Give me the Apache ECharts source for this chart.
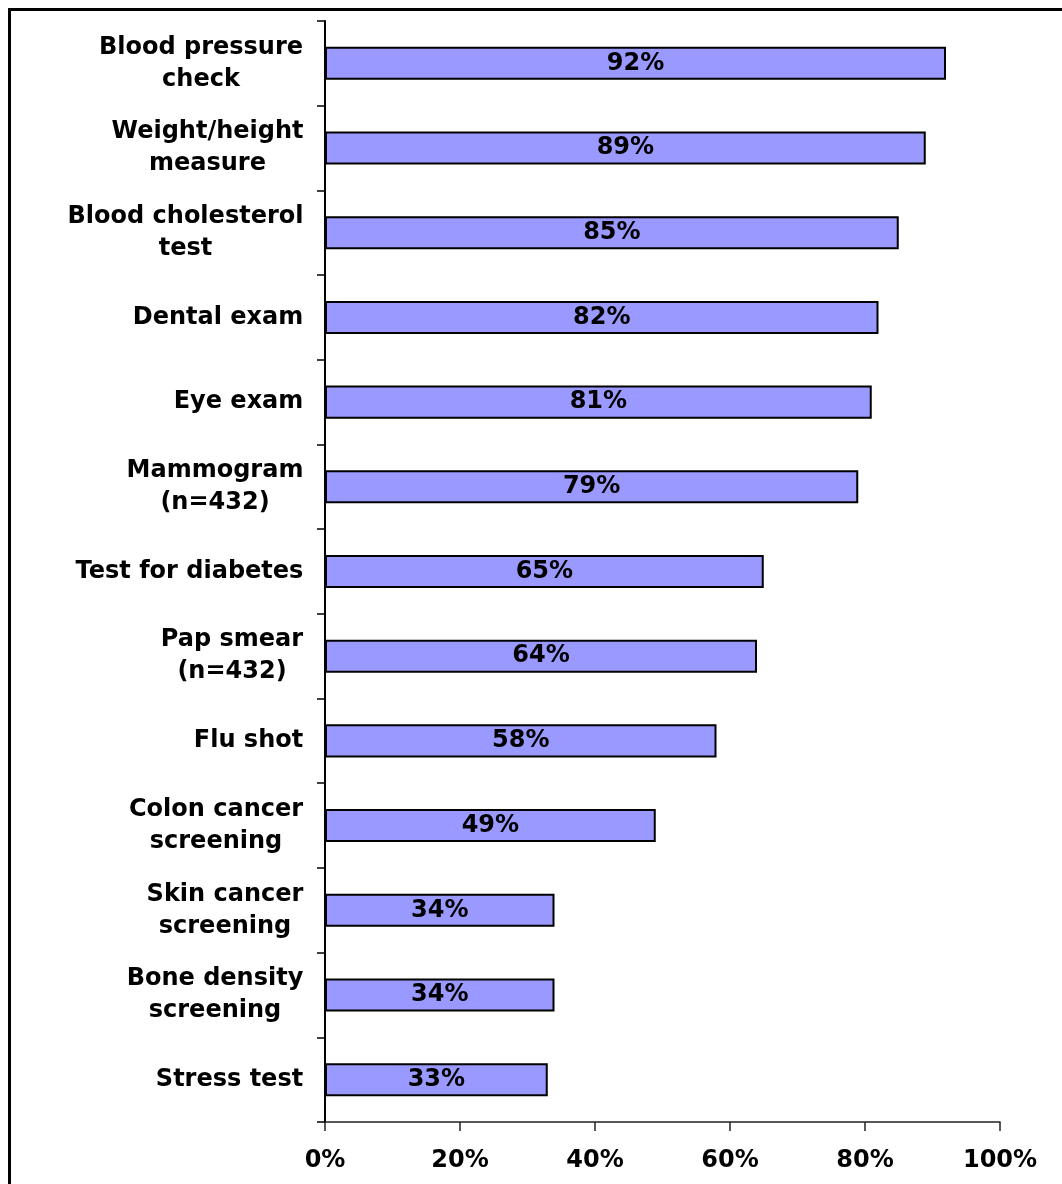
<!DOCTYPE html>
<html>
<head>
<meta charset="utf-8">
<script src="https://cdn.jsdelivr.net/npm/echarts@6/dist/echarts.min.js"></script>
<style>
  html, body { margin: 0; padding: 0; background: #fff; }
  #chart { position: absolute; left: 0; top: 0; width: 1062px; height: 1184px; }
  #frame {
    position: absolute; left: 8px; top: 8px; width: 1100px; height: 1200px;
    border-left: 3px solid #000; border-top: 3px solid #000; pointer-events: none;
  }
</style>
</head>
<body>
<div id="chart"></div>
<div id="frame"></div>
<script>
// Preventive services received (share of respondents)
const categories = [
  'Blood pressure\ncheck',
  'Weight/height\nmeasure',
  'Blood cholesterol\ntest',
  'Dental exam',
  'Eye exam',
  'Mammogram\n(n=432)',
  'Test for diabetes',
  'Pap smear\n(n=432)',
  'Flu shot',
  'Colon cancer\nscreening',
  'Skin cancer\nscreening',
  'Bone density\nscreening',
  'Stress test'
];
const values = [92, 89, 85, 82, 81, 79, 65, 64, 58, 49, 34, 34, 33];
const xTicks = [0, 20, 40, 60, 80, 100];

const FONT_FAMILY = '"DejaVu Sans", Verdana, sans-serif';
const FONT_SIZE = 24;

// Each category label is a block of centred lines, right-aligned against the axis.
// Measure the widest line of every label so its rich token gets that width.
const ctx = document.createElement('canvas').getContext('2d');
ctx.font = 'bold ' + FONT_SIZE + 'px ' + FONT_FAMILY;
const rich = {};
categories.forEach((c, i) => {
  const w = Math.max(...c.split('\n').map(l => ctx.measureText(l).width));
  rich['c' + i] = {
    width: Math.ceil(w) + 1,
    align: 'center',
    fontFamily: FONT_FAMILY,
    fontSize: FONT_SIZE,
    fontWeight: 'bold',
    color: '#000',
    lineHeight: 32
  };
});

const chart = echarts.init(document.getElementById('chart'), null, { renderer: 'canvas' });
chart.setOption({
  animation: false,
  backgroundColor: '#fff',
  grid: { left: 325, right: 62, top: 21, bottom: 62, containLabel: false },
  xAxis: {
    type: 'value',
    min: xTicks[0],
    max: xTicks[xTicks.length - 1],
    interval: 20,
    splitLine: { show: false },
    axisLine: { show: true, lineStyle: { color: '#222', width: 1.5 } },
    axisTick: { show: true, length: 9, lineStyle: { color: '#222', width: 1.5 } },
    axisLabel: {
      formatter: '{value}%',
      margin: 27,
      color: '#000',
      fontFamily: FONT_FAMILY,
      fontSize: FONT_SIZE,
      fontWeight: 'bold'
    }
  },
  yAxis: {
    type: 'category',
    inverse: true,
    data: categories,
    axisLine: { show: true, lineStyle: { color: '#000', width: 2 } },
    axisTick: { show: true, length: 8, lineStyle: { color: '#000', width: 1.5 } },
    axisLabel: {
      margin: 21,
      align: 'right',
      interval: 0,
      formatter: (value, index) =>
        value.split('\n').map(l => '{c' + index + '|' + l + '}').join('\n'),
      rich: rich
    }
  },
  series: [{
    type: 'bar',
    data: values,
    barWidth: '39%',
    itemStyle: { color: '#9999FF', borderColor: '#000', borderWidth: 2 },
    label: {
      show: true,
      position: 'inside',
      formatter: '{c}%',
      color: '#000',
      fontFamily: FONT_FAMILY,
      fontSize: FONT_SIZE,
      fontWeight: 'bold'
    }
  }]
});
</script>
</body>
</html>
